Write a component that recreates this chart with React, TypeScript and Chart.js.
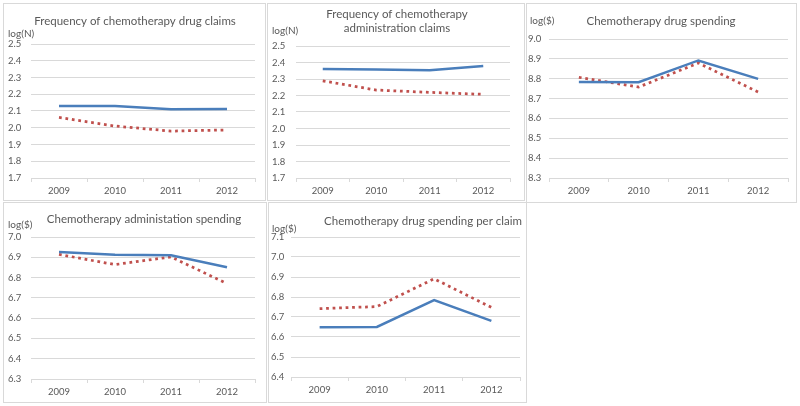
import React, { useEffect, useRef } from 'react';
import { Chart, registerables } from 'chart.js';

Chart.register(...registerables);

// ---------- data ----------
const years = ['2009', '2010', '2011', '2012'];

const drugClaimsBlue = [2.13, 2.13, 2.11, 2.112];
const drugClaimsRed = [2.062, 2.01, 1.98, 1.987];

const adminClaimsBlue = [2.361, 2.357, 2.353, 2.379];
const adminClaimsRed = [2.289, 2.233, 2.219, 2.207];

const drugSpendBlue = [8.783, 8.782, 8.892, 8.799];
const drugSpendRed = [8.807, 8.758, 8.879, 8.733];

const adminSpendBlue = [6.926, 6.913, 6.91, 6.851];
const adminSpendRed = [6.914, 6.864, 6.902, 6.77];

const perClaimBlue = [6.649, 6.65, 6.785, 6.681];
const perClaimRed = [6.742, 6.752, 6.891, 6.748];

const claimsRange = [1.7, 2.5];
const drugSpendRange = [8.3, 9.0];
const adminSpendRange = [6.3, 7.0];
const perClaimRange = [6.4, 7.1];

// ---------- style ----------
const FONT = 'Lato, "Open Sans", sans-serif';
const BLUE = '#4A7EBB';
const RED = '#C0504D';
const GRID = '#D9D9D9';
const TEXT = '#595959';
const TITLE_SIZE = 11.5;
const UNIT_SIZE = 10;
const TICK_SIZE = 9.5;

type Spec = {
  box: { left: number; top: number; width: number; height: number };
  plot: { left: number; right: number; top: number; bottom: number };
  labelX: number;
  range: number[];
  blue: number[];
  red: number[];
  title: string[];
  titleX: number;
  titleY: number[];
  unit: string;
  unitX: number;
  unitY: number;
};

const specs: Spec[] = [
  {
    box: { left: 3, top: 3, width: 263, height: 198 },
    plot: { left: 31, right: 255, top: 44, bottom: 178 },
    labelX: 8,
    range: claimsRange,
    blue: drugClaimsBlue,
    red: drugClaimsRed,
    title: ['Frequency of chemotherapy drug claims'],
    titleX: 135,
    titleY: [21],
    unit: 'log(N)',
    unitX: 8,
    unitY: 34,
  },
  {
    box: { left: 267, top: 3, width: 258, height: 198 },
    plot: { left: 296, right: 510, top: 46, bottom: 178 },
    labelX: 272,
    range: claimsRange,
    blue: adminClaimsBlue,
    red: adminClaimsRed,
    title: ['Frequency of chemotherapy', 'administration claims'],
    titleX: 397,
    titleY: [14, 28],
    unit: 'log(N)',
    unitX: 272,
    unitY: 31,
  },
  {
    box: { left: 526, top: 3, width: 271, height: 200 },
    plot: { left: 549, right: 788, top: 39, bottom: 178 },
    labelX: 528,
    range: drugSpendRange,
    blue: drugSpendBlue,
    red: drugSpendRed,
    title: ['Chemotherapy drug spending'],
    titleX: 661,
    titleY: [21],
    unit: 'log($)',
    unitX: 530,
    unitY: 21,
  },
  {
    box: { left: 3, top: 202, width: 264, height: 201 },
    plot: { left: 31, right: 255, top: 237, bottom: 379 },
    labelX: 8,
    range: adminSpendRange,
    blue: adminSpendBlue,
    red: adminSpendRed,
    title: ['Chemotherapy administation spending'],
    titleX: 144,
    titleY: [219],
    unit: 'log($)',
    unitX: 8,
    unitY: 225,
  },
  {
    box: { left: 268, top: 202, width: 259, height: 201 },
    plot: { left: 291, right: 520, top: 237, bottom: 377 },
    labelX: 271,
    range: perClaimRange,
    blue: perClaimBlue,
    red: perClaimRed,
    title: ['Chemotherapy drug spending per claim'],
    titleX: 423,
    titleY: [221],
    unit: 'log($)',
    unitX: 272,
    unitY: 229,
  },
];

function Panel({ s }: { s: Spec }) {
  const ref = useRef<HTMLCanvasElement>(null);

  useEffect(() => {
    if (!ref.current) return;
    const textPlugin = {
      id: 'panelText',
      afterDraw(chart: any) {
        const ctx = chart.ctx;
        ctx.save();
        ctx.fillStyle = TEXT;
        ctx.textBaseline = 'middle';
        ctx.textAlign = 'center';
        ctx.font = `${TITLE_SIZE}px ${FONT}`;
        s.title.forEach((line, i) => {
          ctx.fillText(line, s.titleX - s.box.left, s.titleY[i] - s.box.top);
        });
        ctx.textAlign = 'left';
        ctx.font = `${UNIT_SIZE}px ${FONT}`;
        ctx.fillText(s.unit, s.unitX - s.box.left, s.unitY - s.box.top);
        ctx.restore();
      },
    };

    const chart = new Chart(ref.current, {
      type: 'line',
      data: {
        labels: years,
        datasets: [
          {
            data: s.blue,
            borderColor: BLUE,
            borderWidth: 2.5,
            pointRadius: 0,
            tension: 0,
            fill: false,
          },
          {
            data: s.red,
            borderColor: RED,
            borderWidth: 2.75,
            borderDash: [2.75, 3.75],
            borderCapStyle: 'butt',
            pointRadius: 0,
            tension: 0,
            fill: false,
          },
        ],
      },
      options: {
        responsive: false,
        animation: false,
        events: [],
        layout: {
          padding: {
            left: s.labelX - s.box.left,
            top: s.plot.top - s.box.top,
            right: s.box.left + s.box.width - s.plot.right,
            bottom: 0,
          },
        },
        plugins: {
          legend: { display: false },
          tooltip: { enabled: false },
          title: { display: false },
        },
        scales: {
          x: {
            type: 'category',
            offset: true,
            grid: {
              offset: true,
              drawOnChartArea: false,
              drawTicks: true,
              tickLength: 4,
              color: GRID,
            },
            border: { display: true, color: GRID },
            ticks: {
              color: TEXT,
              font: { family: FONT, size: TICK_SIZE },
              padding: 3,
              maxRotation: 0,
              autoSkip: false,
            },
            afterFit: (sc: any) => {
              sc.height = s.box.top + s.box.height - s.plot.bottom;
            },
          },
          y: {
            min: s.range[0],
            max: s.range[1],
            ticks: {
              stepSize: 0.1,
              color: TEXT,
              font: { family: FONT, size: TICK_SIZE },
              crossAlign: 'far',
              callback: (v: any) => Number(v).toFixed(1),
            },
            grid: { color: GRID, drawTicks: false },
            border: { display: false },
            afterFit: (sc: any) => {
              sc.width = s.plot.left - s.labelX;
            },
          },
        },
      },
      plugins: [textPlugin],
    } as any);

    return () => chart.destroy();
  }, [s]);

  const pos = {
    position: 'absolute' as const,
    left: s.box.left,
    top: s.box.top,
    width: s.box.width,
    height: s.box.height,
  };

  return (
    <>
      <canvas ref={ref} width={s.box.width} height={s.box.height} style={{ ...pos, display: 'block' }} />
      <div
        style={{
          ...pos,
          border: `1px solid ${GRID}`,
          boxSizing: 'border-box',
          pointerEvents: 'none',
        }}
      />
    </>
  );
}

export default function App() {
  return (
    <div style={{ position: 'absolute', left: 0, top: 0, width: 800, height: 406, background: '#fff' }}>
      {specs.map((s, i) => (
        <Panel key={i} s={s} />
      ))}
    </div>
  );
}
